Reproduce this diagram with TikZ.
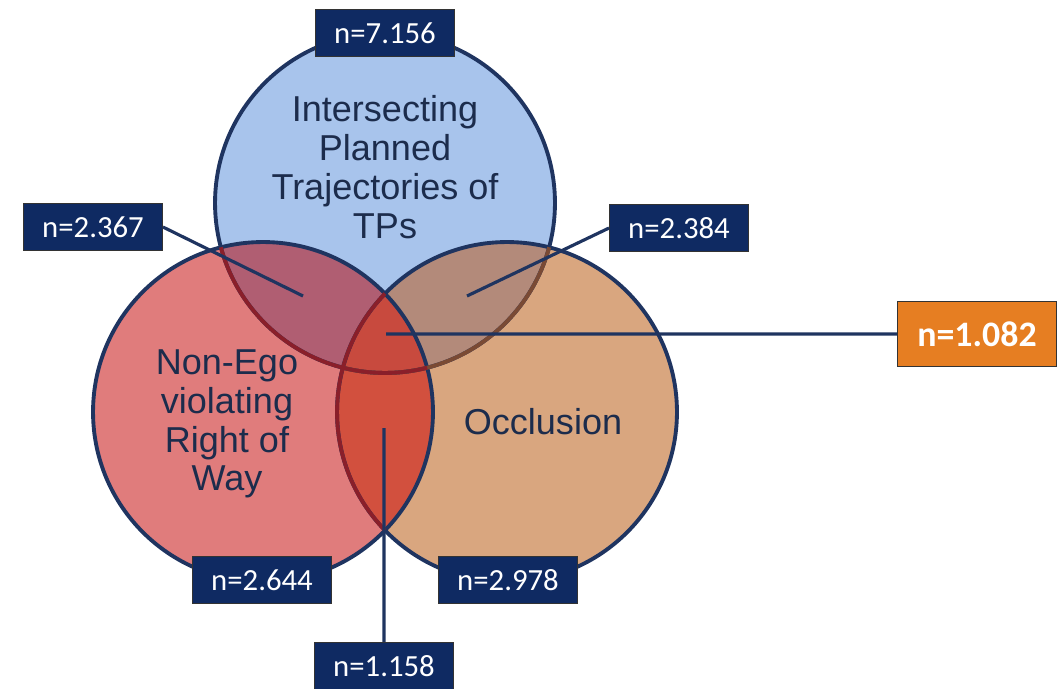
\documentclass[tikz,border=0pt]{standalone}
\usepackage{fontspec}
\setmainfont{Liberation Sans}
\newfontfamily\boxfont{Carlito}

\definecolor{ringnavy}{HTML}{1F3460}
\definecolor{textnavy}{HTML}{1C2C4C}
\definecolor{boxnavy}{HTML}{0F2A62}
\definecolor{boxorange}{HTML}{E67E22}
\definecolor{tpblue}{HTML}{A8C4EC}
\definecolor{rowred}{HTML}{E07C7C}
\definecolor{occorange}{HTML}{D9A67F}
\definecolor{blueXred}{HTML}{B05E72}
\definecolor{blueXorange}{HTML}{B38A7A}
\definecolor{redXorange}{HTML}{D2503E}
\definecolor{allthree}{HTML}{C84A3E}
\definecolor{darkarc}{HTML}{8A1F2A}
\definecolor{brownarc}{HTML}{7A4A34}

\tikzset{
    countbox/.style={fill=boxnavy, draw=black!80, line width=0.6pt, text=white,
        font=\boxfont\fontsize{17.5}{20}\selectfont,
        minimum width=79pt, minimum height=26.6pt, inner sep=0pt},
    totalbox/.style={countbox, fill=boxorange,
        font=\boxfont\bfseries\fontsize{20.4}{22}\selectfont,
        minimum width=90.7pt, minimum height=36.9pt},
    settext/.style={text=textnavy, align=center,
        font=\fontsize{20.5}{22.1}\selectfont},
    leader/.style={draw=ringnavy, line width=1.8pt},
    ring/.style={line width=2.2pt}
}
\def\r{3.4cm}

\begin{document}
\begin{tikzpicture}[x=0.02cm, y=-0.02cm]
    \useasboundingbox (0, 0) rectangle (1064, 689);

    \coordinate (cB) at (385, 203);
    \coordinate (cR) at (263, 412);
    \coordinate (cO) at (507, 412);

    % plain fills
    \fill[tpblue] (cB) circle (\r);
    \fill[occorange] (cO) circle (\r);
    \fill[rowred] (cR) circle (\r);

    % overlaps
    \begin{scope}
        \clip (cB) circle (\r);
        \fill[blueXred] (cR) circle (\r);
        \fill[blueXorange] (cO) circle (\r);
    \end{scope}
    \begin{scope}
        \clip (cR) circle (\r);
        \fill[redXorange] (cO) circle (\r);
        \clip (cO) circle (\r);
        \fill[allthree] (cB) circle (\r);
    \end{scope}

    % outlines
    \draw
        [ring, ringnavy]
        (cB) circle (\r)
        (cO) circle (\r)
        (cR) circle (\r)
    ;
    \begin{scope}
        \clip (cO) circle (\r);
        \draw[ring, brownarc] (cB) circle (\r);
    \end{scope}
    \begin{scope}
        \clip (cR) circle (\r);
        \draw[ring, darkarc] (cB) circle (\r) (cO) circle (\r);
    \end{scope}

    % set names
    \node[settext] (tpname) at (385, 167) {Intersecting\\Planned\\Trajectories of\\TPs};
    \node[settext] (rowname) at (227, 424) {Non-Ego\\violating\\Right of\\Way};
    \node[settext] (occname) at (543, 422) {Occlusion};

    % counts
    \draw
        node[countbox] (nB) at (385, 33) {n=7.156}
        node[countbox] (nBR) at (93, 227) {n=2.367}
        node[countbox] (nBO) at (679, 228) {n=2.384}
        node[countbox] (nR) at (262, 580) {n=2.644}
        node[countbox] (nO) at (508, 580) {n=2.978}
        node[countbox] (nRO) at (384, 666) {n=1.158}
        node[totalbox] (nAll) at (977, 334) {n=1.082}
    ;

    \coordinate (pBR) at (303, 296);
    \coordinate (pBO) at (467, 296);
    \coordinate (pAll) at (386, 334);
    \coordinate (pRO) at (384, 428);

    \draw
        [leader]
        (nBR.east) -- (pBR)
        (nBO.west) -- (pBO)
        (pAll) -- (nAll.west)
        (pRO) -- (nRO.north)
    ;
\end{tikzpicture}
\end{document}
